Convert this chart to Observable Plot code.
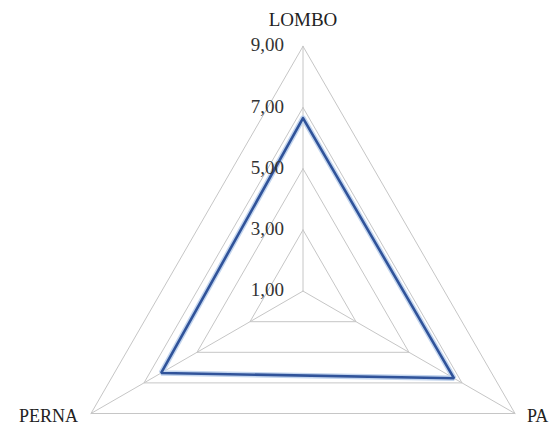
<!DOCTYPE html>
<html>
<head>
<meta charset="utf-8">
<script src="https://cdn.jsdelivr.net/npm/d3@7"></script>
<script src="https://cdn.jsdelivr.net/npm/@observablehq/plot@0.6"></script>
<style>
  html, body { margin: 0; padding: 0; background: #fff; overflow: hidden; }
  #chart svg { display: block; }
</style>
</head>
<body>
<div id="chart"></div>
<script>
// ---- data ----
const axisNames = ["LOMBO", "PA", "PERNA"];
const axisAngles = [0, 120, 240];
const seriesValues = [6.65, 6.7, 6.35];
const gridLevels = [3, 5, 7, 9];
const tickValues = [1, 3, 5, 7, 9];
const tickLabels = ["1,00", "3,00", "5,00", "7,00", "9,00"];
const axisMin = 1;
const axisMax = 9;

// ---- layout ----
const W = 553, H = 427;
const cx = 302.5, cy = 290.6, k = 30.6; // center pixel and px per unit

function polar(v, a) {
  const r = v - axisMin, t = a * Math.PI / 180;
  return { x: r * Math.sin(t), y: r * Math.cos(t) };
}

const gridData = gridLevels.flatMap(l =>
  [...axisAngles, axisAngles[0]].map(a => ({ level: l, ...polar(l, a) })));
const spokeData = axisAngles.flatMap((a, i) =>
  [{ id: i, ...polar(axisMin, a) }, { id: i, ...polar(axisMax, a) }]);
const seriesData = [...seriesValues, seriesValues[0]].map((v, i) =>
  ({ ...polar(v, axisAngles[i % axisAngles.length]) }));
const tickData = tickValues.map((v, i) => ({ label: tickLabels[i], ...polar(v, 0) }));
const nameData = axisNames.map((n, i) => ({ name: n, ...polar(axisMax, axisAngles[i]) }));

const font = "'Liberation Serif', 'Times New Roman', serif";

const plot = Plot.plot({
  width: W, height: H,
  margin: 0,
  style: { fontFamily: font, background: "#fff", overflow: "hidden" },
  x: { domain: [-cx / k, (W - cx) / k], range: [0, W], axis: null },
  y: { domain: [-(H - cy) / k, cy / k], range: [H, 0], axis: null },
  marks: [
    Plot.line(spokeData, { x: "x", y: "y", z: "id", stroke: "#c6c6c6", strokeWidth: 1 }),
    Plot.line(gridData, { x: "x", y: "y", z: "level", stroke: "#c6c6c6", strokeWidth: 1, strokeLinejoin: "miter" }),
    Plot.line(seriesData, { x: "x", y: "y", stroke: "#c3d5ee", strokeWidth: 5.5, strokeLinejoin: "miter" }),
    Plot.line(seriesData, { x: "x", y: "y", stroke: "#30539a", strokeWidth: 2.6, strokeLinejoin: "miter" }),
    Plot.text(tickData, { x: "x", y: "y", text: "label", textAnchor: "end", dx: -19, dy: -1, fontSize: 19, fill: "#333" }),
    Plot.text(nameData.filter(d => d.name === "LOMBO"), { x: "x", y: "y", text: "name", textAnchor: "middle", dy: -26, fontSize: 19, fill: "#222" }),
    Plot.text(nameData.filter(d => d.name === "PERNA"), { x: "x", y: "y", text: "name", textAnchor: "end", dx: -13, dy: 3, fontSize: 18, fill: "#222" }),
    Plot.text(nameData.filter(d => d.name === "PA"), { x: "x", y: "y", text: "name", textAnchor: "start", dx: 12, dy: 3, fontSize: 18, fill: "#222" })
  ]
});
document.getElementById("chart").appendChild(plot);
</script>
</body>
</html>
